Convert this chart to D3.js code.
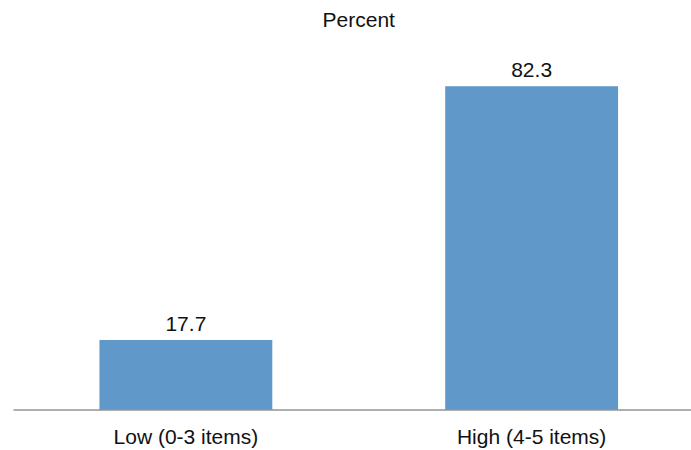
<!DOCTYPE html>
<html>
<head>
<meta charset="utf-8">
<script src="https://cdn.jsdelivr.net/npm/d3@7"></script>
<style>
  html, body { margin: 0; padding: 0; background: #fff; }
  svg { display: block; }
  text { font-family: "Liberation Sans", Arial, sans-serif; fill: #111; }
</style>
</head>
<body>
<svg id="chart" width="691" height="450"></svg>
<script>
// Share of respondents by number of items
const categories = ["Low (0-3 items)", "High (4-5 items)"];
const values = [17.7, 82.3];
const axisTitle = "Percent";

const width = 691, height = 450;
const svg = d3.select("#chart");

// Plot area extends past the right edge, as in the original layout
const x = d3.scaleBand()
  .domain(categories)
  .range([13, 704.5])
  .paddingInner(0.5)
  .paddingOuter(0.25);

const y = d3.scaleLinear()
  .domain([0, 100])
  .range([409.5, 16.7]);

// Bars
svg.append("g")
  .selectAll("rect")
  .data(values)
  .join("rect")
  .attr("x", (d, i) => x(categories[i]))
  .attr("y", d => y(d))
  .attr("width", x.bandwidth())
  .attr("height", d => y(0) - y(d))
  .attr("fill", "#6198CA");

// Value labels
svg.append("g")
  .selectAll("text")
  .data(values)
  .join("text")
  .attr("x", (d, i) => x(categories[i]) + x.bandwidth() / 2)
  .attr("y", d => y(d) - 9)
  .attr("text-anchor", "middle")
  .style("font-size", "21px")
  .text(d => d.toFixed(1));

// Category axis
const xAxis = svg.append("g")
  .attr("transform", `translate(0,${y(0)})`)
  .call(d3.axisBottom(x).tickSize(0).tickPadding(0));
xAxis.select(".domain").attr("stroke", "#5f5f5f").attr("stroke-width", 1);
xAxis.selectAll(".tick text")
  .attr("dy", null)
  .attr("y", 34)
  .style("font-size", "21px")
  .style("font-family", "'Liberation Sans', Arial, sans-serif")
  .attr("fill", "#111");

// Axis title
const [r0, r1] = x.range();
svg.append("text")
  .attr("x", (r0 + r1) / 2)
  .attr("y", 27)
  .attr("text-anchor", "middle")
  .style("font-size", "21px")
  .text(axisTitle);
</script>
</body>
</html>
